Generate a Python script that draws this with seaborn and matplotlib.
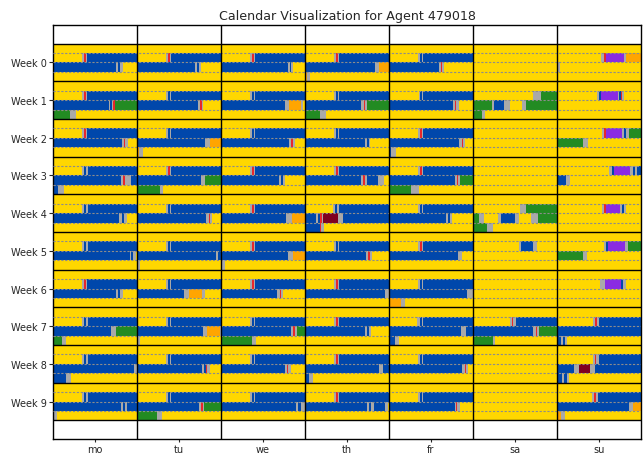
import matplotlib
matplotlib.use("Agg")
import matplotlib.pyplot as plt
import seaborn as sns

# ---------------- data ----------------
DAYS = ["mo", "tu", "we", "th", "fr", "sa", "su"]
WEEK_LABELS = ["Week 0", "Week 1", "Week 2", "Week 3", "Week 4",
               "Week 5", "Week 6", "Week 7", "Week 8", "Week 9"]
TITLE = "Calendar Visualization for Agent 479018"

# activity codes -> colours ('H' = home, the default fill)
COLORS = {
    "H": "#FFD700",  # home
    "W": "#0047AB",  # work / activity
    "T": "#A9A9A9",  # travel
    "R": "#E8262B",  # short stop
    "L": "#228B22",  # leisure
    "S": "#FFA500",  # shopping
    "P": "#8A2BE2",  # other
    "D": "#800020",  # errand
}

# each day: list per week of (start_hour, end_hour, code) for non-home segments
MO = [
    [(8.07, 8.22, "T"), (8.22, 8.33, "R"), (8.33, 8.43, "T"), (8.43, 16.45, "W"), (16.45, 16.62, "T"), (16.62, 16.79, "W"), (16.79, 16.95, "T")],
    [(8.07, 8.22, "T"), (8.22, 8.33, "R"), (8.33, 8.43, "T"), (8.43, 15.98, "W"), (15.98, 16.07, "T"), (16.07, 16.19, "W"), (16.19, 16.29, "T"), (16.29, 16.38, "R"), (16.38, 19.19, "L"), (19.19, 19.62, "T")],
    [(8.07, 8.22, "T"), (8.22, 8.33, "R"), (8.33, 8.43, "T"), (8.43, 16.88, "W"), (16.88, 17.02, "T"), (17.02, 17.12, "R"), (17.12, 17.31, "T")],
    [(8.07, 8.21, "T"), (8.21, 8.33, "W"), (8.33, 8.45, "T"), (8.45, 16.81, "W"), (16.81, 16.98, "T"), (16.98, 17.1, "R"), (17.1, 17.52, "T"), (17.52, 18.36, "W"), (18.36, 18.79, "T")],
    [(8.07, 8.21, "T"), (8.21, 8.33, "W"), (8.33, 8.45, "T"), (8.45, 16.71, "W"), (16.71, 16.88, "T"), (16.88, 17.05, "W"), (17.05, 17.24, "T")],
    [(8.07, 8.21, "T"), (8.21, 8.33, "W"), (8.33, 8.45, "T"), (8.45, 17.48, "W"), (17.48, 17.55, "T"), (17.55, 17.71, "W"), (17.71, 17.9, "T")],
    [(8.07, 8.22, "T"), (8.22, 8.33, "R"), (8.33, 8.43, "T"), (8.43, 16.48, "W"), (16.48, 16.62, "T"), (16.62, 16.76, "W"), (16.76, 16.95, "T")],
    [(8.07, 8.21, "T"), (8.21, 8.33, "W"), (8.33, 8.45, "T"), (8.45, 16.12, "W"), (16.12, 16.45, "T"), (16.45, 18.62, "L"), (18.62, 18.88, "T")],
    [(8.07, 8.21, "T"), (8.21, 8.33, "W"), (8.33, 8.45, "T"), (8.45, 17.79, "W"), (17.79, 17.95, "T"), (17.95, 18.88, "W"), (18.88, 19.24, "T")],
    [(8.07, 8.21, "T"), (8.21, 8.33, "W"), (8.33, 8.45, "T"), (8.45, 16.81, "W"), (16.81, 16.95, "T"), (16.95, 17.1, "W"), (17.1, 17.24, "T"), (17.24, 18.0, "W"), (18.0, 18.29, "T")],
]
TU = [
    [(8.07, 8.22, "T"), (8.22, 8.33, "R"), (8.33, 8.43, "T"), (8.43, 16.12, "W"), (16.12, 16.29, "T"), (16.29, 16.43, "W"), (16.43, 16.57, "T")],
    [(8.07, 8.21, "T"), (8.21, 8.33, "W"), (8.33, 8.45, "T"), (8.45, 16.38, "W"), (16.38, 16.5, "T"), (16.5, 16.6, "R"), (16.6, 16.71, "T")],
    [(8.07, 8.21, "T"), (8.21, 8.33, "W"), (8.33, 8.45, "T"), (8.45, 16.88, "W"), (16.88, 17.19, "T"), (17.19, 18.14, "S"), (18.14, 18.38, "T")],
    [(8.07, 8.22, "T"), (8.22, 8.33, "R"), (8.33, 8.43, "T"), (8.43, 16.55, "W"), (16.55, 16.88, "T"), (16.88, 19.62, "L"), (19.62, 19.86, "T")],
    [(8.07, 8.21, "T"), (8.21, 8.33, "W"), (8.33, 8.45, "T"), (8.45, 16.95, "W"), (16.95, 17.12, "T"), (17.12, 17.24, "R"), (17.24, 17.38, "T")],
    [(8.05, 8.21, "T"), (8.21, 8.33, "W"), (8.33, 8.45, "T"), (8.45, 17.62, "W"), (17.62, 17.79, "T"), (17.79, 18.0, "W"), (18.0, 18.17, "T")],
    [(8.07, 8.21, "T"), (8.21, 8.33, "W"), (8.33, 8.45, "T"), (8.45, 15.36, "W"), (15.36, 15.71, "T"), (15.71, 16.6, "S"), (16.6, 16.88, "T")],
    [(8.07, 8.21, "T"), (8.21, 8.33, "W"), (8.33, 8.45, "T"), (8.45, 16.71, "W"), (16.71, 17.02, "T"), (17.02, 17.95, "S"), (17.95, 18.19, "T")],
    [(8.07, 8.21, "T"), (8.21, 8.33, "W"), (8.33, 8.45, "T"), (8.45, 16.64, "W"), (16.64, 16.76, "T"), (16.76, 16.9, "W"), (16.9, 17.0, "R"), (17.0, 17.19, "T")],
    [(8.07, 8.21, "T"), (8.21, 8.33, "W"), (8.33, 8.45, "T"), (8.45, 16.4, "W"), (16.4, 16.57, "T"), (16.57, 16.67, "R"), (16.67, 16.79, "T"), (16.79, 19.38, "L"), (19.38, 19.79, "T")],
]
WE = [
    [(8.07, 8.22, "T"), (8.22, 8.33, "R"), (8.33, 8.43, "T"), (8.43, 16.76, "W"), (16.76, 16.9, "T"), (16.9, 17.02, "W"), (17.02, 17.17, "T")],
    [(8.07, 8.21, "T"), (8.21, 8.33, "W"), (8.33, 8.45, "T"), (8.45, 16.55, "W"), (16.55, 16.86, "T"), (16.86, 17.69, "S"), (17.69, 17.86, "T")],
    [(8.07, 8.21, "T"), (8.21, 8.33, "W"), (8.33, 8.45, "T"), (8.45, 16.86, "W"), (16.86, 17.02, "T"), (17.02, 17.12, "R"), (17.12, 17.31, "T")],
    [(8.07, 8.22, "T"), (8.22, 8.33, "R"), (8.33, 8.43, "T"), (8.43, 16.14, "W"), (16.14, 16.31, "T"), (16.31, 16.45, "W"), (16.45, 16.6, "T")],
    [(8.07, 8.22, "T"), (8.22, 8.33, "R"), (8.33, 8.43, "T"), (8.43, 16.62, "W"), (16.62, 17.05, "T"), (17.05, 18.0, "S")],
    [(8.07, 8.22, "T"), (8.22, 8.33, "R"), (8.33, 8.43, "T"), (8.43, 16.81, "W"), (16.81, 17.14, "T"), (17.14, 18.0, "S"), (18.0, 18.3, "T")],
    [(8.07, 8.22, "T"), (8.22, 8.33, "R"), (8.33, 8.43, "T"), (8.43, 16.02, "W"), (16.02, 16.19, "T"), (16.19, 16.29, "R"), (16.29, 16.45, "T")],
    [(8.07, 8.21, "T"), (8.21, 8.33, "W"), (8.33, 8.45, "T"), (8.45, 17.02, "W"), (17.02, 17.17, "T"), (17.17, 17.29, "R"), (17.29, 17.45, "T"), (17.45, 20.21, "L"), (20.21, 20.52, "T")],
    [(8.07, 8.21, "T"), (8.21, 8.33, "W"), (8.33, 8.45, "T"), (8.45, 16.55, "W"), (16.55, 16.71, "T"), (16.71, 16.81, "R"), (16.81, 17.0, "T")],
    [(8.07, 8.21, "T"), (8.21, 8.33, "W"), (8.33, 8.45, "T"), (8.45, 17.33, "W"), (17.33, 17.5, "T"), (17.5, 17.69, "W"), (17.69, 18.0, "T")],
]
TH = [
    [(8.07, 8.22, "T"), (8.22, 8.33, "R"), (8.33, 8.43, "T"), (8.43, 16.98, "W"), (16.98, 17.29, "T"), (17.29, 18.14, "S"), (18.14, 18.33, "T")],
    [(8.07, 8.21, "T"), (8.21, 8.33, "W"), (8.33, 8.45, "T"), (8.45, 16.02, "W"), (16.02, 16.19, "T"), (16.19, 16.29, "R"), (16.29, 16.4, "T"), (16.4, 19.05, "L"), (19.05, 19.48, "T")],
    [(8.07, 8.21, "T"), (8.21, 8.33, "W"), (8.33, 8.45, "T"), (8.45, 16.26, "W"), (16.26, 16.43, "T"), (16.43, 16.55, "W"), (16.55, 16.67, "T")],
    [(8.07, 8.22, "T"), (8.22, 8.33, "R"), (8.33, 8.43, "T"), (8.43, 16.02, "W"), (16.02, 16.14, "T"), (16.14, 16.26, "R"), (16.26, 16.4, "T"), (16.4, 17.24, "W"), (17.24, 17.62, "T")],
    [(8.0, 8.17, "T"), (8.17, 8.29, "W"), (8.29, 8.43, "T"), (8.43, 12.76, "W"), (12.76, 12.93, "T"), (12.93, 13.1, "W"), (13.1, 13.19, "R"), (13.19, 13.29, "T"), (13.29, 14.36, "D"), (14.36, 14.71, "T"), (14.71, 19.05, "W"), (19.05, 19.14, "R"), (19.14, 19.33, "T")],
    [(8.07, 8.21, "T"), (8.21, 8.33, "W"), (8.33, 8.45, "T"), (8.45, 16.38, "W"), (16.38, 16.52, "T"), (16.52, 16.62, "R"), (16.62, 16.76, "T")],
    [(8.07, 8.22, "T"), (8.22, 8.33, "R"), (8.33, 8.43, "T"), (8.43, 17.69, "W"), (17.69, 18.1, "T")],
    [(8.07, 8.22, "T"), (8.22, 8.33, "R"), (8.33, 8.43, "T"), (8.43, 16.26, "W"), (16.26, 16.43, "T"), (16.43, 16.57, "W"), (16.57, 16.69, "T")],
    [(8.07, 8.22, "T"), (8.22, 8.33, "R"), (8.33, 8.43, "T"), (8.43, 17.29, "W"), (17.29, 17.57, "T"), (17.57, 18.29, "W"), (18.29, 18.57, "T")],
    [(8.07, 8.22, "T"), (8.22, 8.33, "R"), (8.33, 8.43, "T"), (8.43, 16.43, "W"), (16.43, 16.57, "T"), (16.57, 16.74, "W"), (16.74, 16.9, "T"), (16.9, 17.69, "W"), (17.69, 17.93, "T")],
]
FR = [
    [(8.07, 8.21, "T"), (8.21, 8.33, "W"), (8.33, 8.45, "T"), (8.45, 15.55, "W"), (15.55, 15.69, "T"), (15.69, 15.79, "R"), (15.79, 15.93, "T")],
    [(8.12, 8.21, "T"), (8.21, 8.33, "W"), (8.33, 8.45, "T"), (8.45, 16.57, "W"), (16.57, 16.71, "T"), (16.71, 16.81, "R"), (16.81, 17.02, "T")],
    [(8.07, 8.22, "T"), (8.22, 8.33, "R"), (8.33, 8.43, "T"), (8.43, 17.0, "W"), (17.0, 17.19, "T"), (17.19, 17.29, "R"), (17.29, 17.45, "T"), (18.0, 18.17, "W"), (18.17, 18.52, "T")],
    [(8.07, 8.22, "T"), (8.22, 8.33, "R"), (8.33, 8.43, "T"), (8.43, 16.69, "W"), (16.69, 16.83, "T"), (16.83, 16.93, "R"), (16.93, 17.05, "T"), (17.05, 19.6, "L"), (19.6, 20.12, "T")],
    [(8.07, 8.21, "T"), (8.21, 8.33, "W"), (8.33, 8.45, "T"), (8.45, 16.05, "W"), (16.05, 16.21, "T"), (16.21, 16.33, "W"), (16.33, 16.5, "T")],
    [(8.07, 8.22, "T"), (8.22, 8.33, "R"), (8.33, 8.43, "T"), (8.43, 16.93, "W"), (16.93, 17.2, "T")],
    [(8.07, 8.21, "T"), (8.21, 8.33, "W"), (8.33, 8.45, "T"), (8.45, 17.6, "W"), (17.6, 18.0, "T"), (18.0, 18.88, "S"), (18.88, 19.12, "T")],
    [(8.02, 8.21, "T"), (8.21, 8.33, "W"), (8.33, 8.45, "T"), (8.45, 17.12, "W"), (17.12, 17.52, "T"), (17.52, 18.4, "W"), (18.4, 18.69, "T")],
    [(8.07, 8.21, "T"), (8.21, 8.33, "W"), (8.33, 8.45, "T"), (8.45, 17.24, "W"), (17.24, 17.43, "T"), (17.43, 17.52, "R"), (17.52, 17.64, "T")],
    [(8.07, 8.21, "T"), (8.21, 8.33, "W"), (8.33, 8.45, "T"), (8.45, 16.69, "W"), (16.69, 16.81, "T"), (16.81, 16.9, "R"), (16.9, 17.05, "T")],
]
SA = [
    [],
    [(10.29, 10.86, "T"), (10.86, 13.38, "L"), (13.38, 13.48, "T"), (13.48, 14.26, "W"), (14.26, 14.67, "T"), (15.5, 15.83, "T"), (15.83, 18.67, "L"), (18.67, 18.88, "T")],
    [],
    [],
    [(9.4, 9.81, "T"), (9.81, 12.43, "L"), (12.43, 12.83, "T"), (13.79, 14.02, "T"), (14.02, 15.02, "W"), (15.02, 15.33, "T"), (16.17, 16.69, "T"), (16.69, 19.02, "L"), (19.02, 19.43, "T")],
    [(9.29, 9.45, "T"), (9.45, 10.29, "W"), (10.29, 10.57, "T")],
    [],
    [(8.62, 8.81, "T"), (8.81, 8.9, "R"), (8.9, 9.1, "T"), (9.1, 16.33, "W"), (16.33, 16.5, "T"), (16.5, 16.6, "R"), (16.6, 16.76, "T"), (16.76, 19.43, "L"), (19.43, 19.6, "T")],
    [],
    [],
]
SU = [
    [(9.19, 9.4, "T"), (9.4, 9.52, "R"), (9.52, 10.83, "P"), (10.83, 10.98, "T"), (10.98, 12.0, "S"), (12.0, 12.24, "T")],
    [(8.88, 9.0, "T"), (9.0, 9.17, "W"), (9.17, 10.36, "P"), (10.36, 10.48, "T"), (10.48, 10.6, "W"), (10.6, 10.69, "R"), (10.69, 10.83, "T")],
    [(9.24, 9.4, "T"), (9.4, 9.52, "R"), (9.52, 10.67, "P"), (10.67, 10.83, "T"), (10.83, 10.95, "W"), (10.95, 11.14, "T"), (11.14, 13.86, "L"), (13.86, 14.21, "T")],
    [(9.76, 9.95, "T"), (9.95, 10.12, "W"), (10.12, 11.26, "P"), (11.26, 11.43, "T"), (11.43, 11.57, "W"), (11.57, 11.71, "T"), (11.71, 12.67, "W"), (12.67, 12.98, "T")],
    [(9.21, 9.4, "T"), (9.4, 9.52, "R"), (9.52, 10.55, "P"), (10.55, 10.67, "T"), (10.67, 10.79, "W"), (10.79, 10.98, "T")],
    [(9.36, 9.52, "T"), (9.52, 9.64, "W"), (9.64, 10.9, "P"), (10.9, 11.1, "T"), (11.1, 13.86, "L"), (13.86, 14.17, "T")],
    [(9.12, 9.48, "T"), (9.48, 10.6, "P"), (10.6, 10.71, "W"), (10.71, 10.95, "T")],
    [(8.62, 8.76, "T"), (8.76, 8.86, "R"), (8.86, 9.05, "T"), (9.05, 18.31, "W"), (18.31, 18.43, "T"), (18.43, 18.57, "W"), (18.57, 18.71, "T")],
    [(8.57, 8.71, "T"), (8.71, 8.81, "R"), (8.81, 9.0, "T"), (9.0, 13.26, "W"), (13.26, 13.57, "T"), (13.57, 14.4, "D"), (14.4, 14.74, "T"), (14.74, 18.38, "W"), (18.38, 18.55, "T"), (18.55, 18.71, "W"), (18.71, 18.9, "T")],
    [(8.52, 8.69, "T"), (8.69, 8.79, "R"), (8.79, 8.95, "T"), (8.95, 17.14, "W"), (17.14, 17.43, "T"), (17.43, 18.31, "S"), (18.31, 18.6, "T")],
]
SCHEDULE = [MO, TU, WE, TH, FR, SA, SU]

# ---------------- plotting ----------------
sns.set_style("white")
plt.rcParams["font.family"] = ["DejaVu Sans"]

fig = plt.figure(figsize=(6.44, 4.56), dpi=100)
AX_TOP, AX_BOTTOM = 25.7, 440.3
ax = fig.add_axes([53.3 / 644, 1 - AX_BOTTOM / 456, 587.4 / 644,
                   (AX_BOTTOM - AX_TOP) / 456])

ROWS = 4          # each day cell is split in 4 rows of 6 hours
ROW_H = 1.0 / ROWS
HOURS_PER_ROW = 24 / ROWS

n_weeks = len(WEEK_LABELS)
for j, day_weeks in enumerate(SCHEDULE):
    for i, segs in enumerate(day_weeks):
        top = i - 0.5
        # home background
        for k in range(ROWS):
            ax.barh(top + ROW_H * (k + 0.5), 1.0, left=j, height=ROW_H,
                    color=COLORS["H"], linewidth=0)
        for (s, e, c) in segs:
            for k in range(ROWS):
                a = max(s, k * HOURS_PER_ROW)
                b = min(e, (k + 1) * HOURS_PER_ROW)
                if b > a:
                    ax.barh(top + ROW_H * (k + 0.5), (b - a) / HOURS_PER_ROW,
                            left=j + (a - k * HOURS_PER_ROW) / HOURS_PER_ROW,
                            height=ROW_H, color=COLORS[c], linewidth=0)

# dashed separators between rows inside each week
for i in range(n_weeks):
    for k in range(1, ROWS):
        ax.axhline(i - 0.5 + k * ROW_H, color="#8c8c8c", lw=0.8,
                   linestyle=(0, (2, 1.5)), zorder=3)
# week borders
for i in range(n_weeks + 1):
    ax.axhline(i - 0.5, color="black", lw=1.0, zorder=4)
# day borders
for j in range(1, len(DAYS)):
    ax.axvline(j, color="black", lw=1.0, zorder=4)

ax.set_xlim(0, len(DAYS))
ax.set_ylim(n_weeks, -1)
ax.set_xticks([j + 0.5 for j in range(len(DAYS))])
ax.set_xticklabels(DAYS)
ax.set_yticks(list(range(n_weeks)))
ax.set_yticklabels(WEEK_LABELS)
ax.tick_params(axis="y", labelsize=7.0, length=3, width=0.8,
               direction="out", left=True, pad=1.5)
ax.tick_params(axis="x", labelsize=7.0, length=2.5, width=0.8,
               direction="out", bottom=True, pad=1.0)
for sp in ax.spines.values():
    sp.set_color("black")
    sp.set_linewidth(1.0)
ax.set_title(TITLE, fontsize=9.1, pad=4)

fig.savefig("out.png", dpi=100)
